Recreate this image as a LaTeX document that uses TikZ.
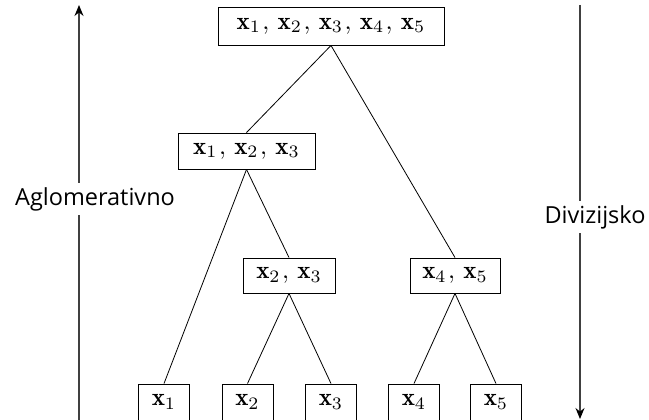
\documentclass[tikz,border=0pt]{standalone}
\usepackage{fontspec}
\usepackage{amsmath}
\usepackage{graphicx}
\newfontfamily\lblfont{Open Sans}
\usetikzlibrary{arrows.meta}
\newcommand{\sep}{\mkern1mu,\mkern3mu}
\newcommand{\bx}[1]{\scalebox{2.5}{$#1$}}
\tikzset{
  box/.style={draw, line width=0.9pt, inner sep=0pt},
  edge/.style={line width=0.8pt},
  axis/.style={line width=1.4pt, draw=black!75, -{Stealth[length=11pt,width=9pt,black]}},
  lbl/.style={font=\lblfont\fontsize{23.5}{28}\selectfont, fill=white, inner sep=4pt}
}
\begin{document}
\begin{tikzpicture}[x=1pt,y=-1pt]
\useasboundingbox[fill=white] (0,0) rectangle (649,420);
\node[box, minimum width=226pt, minimum height=38pt] (top) at (331,26) {\bx{\mathbf{x}_1\sep\mathbf{x}_2\sep\mathbf{x}_3\sep\mathbf{x}_4\sep\mathbf{x}_5}};
\node[box, minimum width=137pt, minimum height=36pt] (a) at (246.5,151) {\bx{\mathbf{x}_1\sep\mathbf{x}_2\sep\mathbf{x}_3}};
\node[box, minimum width=92pt, minimum height=35pt] (b) at (289,275.5) {\bx{\mathbf{x}_2\sep\mathbf{x}_3}};
\node[box, minimum width=90pt, minimum height=35pt] (c) at (455,275.5) {\bx{\mathbf{x}_4\sep\mathbf{x}_5}};
\node[box, minimum width=51pt, minimum height=36pt] (l1) at (164,402) {\bx{\mathbf{x}_1}};
\node[box, minimum width=51pt, minimum height=36pt] (l2) at (247.5,402) {\bx{\mathbf{x}_2}};
\node[box, minimum width=51pt, minimum height=36pt] (l3) at (331,402) {\bx{\mathbf{x}_3}};
\node[box, minimum width=51pt, minimum height=36pt] (l4) at (414,402) {\bx{\mathbf{x}_4}};
\node[box, minimum width=51pt, minimum height=36pt] (l5) at (496,402) {\bx{\mathbf{x}_5}};
\draw[edge] (top.south) -- (a.north);
\draw[edge] (top.south) -- (c.north);
\draw[edge] (a.south) -- (l1.north);
\draw[edge] (a.south) -- (b.north);
\draw[edge] (b.south) -- (l2.north);
\draw[edge] (b.south) -- (l3.north);
\draw[edge] (c.south) -- (l4.north);
\draw[edge] (c.south) -- (l5.north);
\coordinate (lb) at (79,425);
\coordinate (lt) at (79,5);
\coordinate (rt) at (580,5);
\coordinate (rb) at (580,419);
\draw[axis] (lb) -- (lt);
\draw[axis] (rt) -- (rb);
\node[lbl] (agl) at (95,199) {Aglomerativno};
\node[lbl] (div) at (595,217) {Divizijsko};
\end{tikzpicture}
\end{document}
